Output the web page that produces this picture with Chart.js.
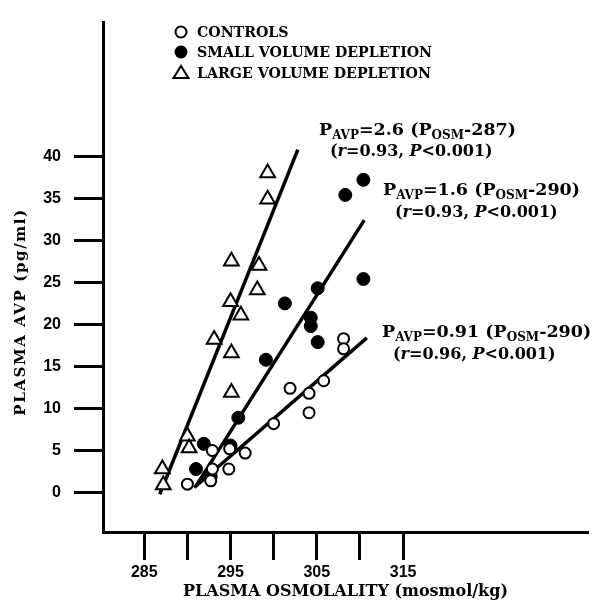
<!DOCTYPE html>
<html>
<head>
<meta charset="utf-8">
<script src="https://cdn.jsdelivr.net/npm/chart.js@4/dist/chart.umd.min.js"></script>
<style>
  html, body { margin: 0; padding: 0; background: #fff; }
  #wrap { width: 595px; height: 601px; }
</style>
</head>
<body>
<div id="wrap"><canvas id="avpChart" width="595" height="601"></canvas></div>
<script>
// values: plasma osmolality (mosmol/kg) vs plasma AVP (pg/ml)
const controlsOsm = [290.0, 292.7, 292.9, 294.8, 292.9, 294.9, 296.7, 300.0, 301.9, 304.1, 304.1, 305.8, 308.1, 308.1];
const controlsAvp = [1.0, 1.4, 2.8, 2.8, 5.0, 5.2, 4.7, 8.2, 12.4, 11.8, 9.5, 13.3, 18.3, 17.1];

const smallOsm = [310.4, 308.3, 310.4, 305.1, 301.3, 304.3, 304.3, 305.1, 299.1, 295.9, 295.0, 291.9, 291.0, 292.7];
const smallAvp = [37.2, 35.4, 25.4, 24.3, 22.5, 20.8, 19.8, 17.9, 15.8, 8.9, 5.6, 5.8, 2.8, 1.9];

const largeOsm = [299.3, 299.3, 295.1, 298.3, 298.1, 295.0, 296.2, 293.1, 295.1, 295.1, 290.0, 290.2, 287.1, 287.2];
const largeAvp = [38.0, 34.9, 27.5, 27.0, 24.1, 22.7, 21.1, 18.2, 16.6, 11.9, 6.7, 5.3, 2.8, 0.9];

// ends of the three regression lines
const largeLineOsm = [286.8, 302.8];
const largeLineAvp = [-0.2, 40.8];
const smallLineOsm = [291.0, 310.5];
const smallLineAvp = [0.8, 32.4];
const controlsLineOsm = [290.8, 310.8];
const controlsLineAvp = [0.6, 18.4];

const xTickValues = [285, 290, 295, 300, 305, 310, 315];
const xTickLabels = ['285', '', '295', '', '305', '', '315'];
const yTickValues = [0, 5, 10, 15, 20, 25, 30, 35, 40];
const yTickLabels = ['0', '5', '10', '15', '20', '25', '30', '35', '40'];

const legendLabels = ['CONTROLS', 'SMALL VOLUME DEPLETION', 'LARGE VOLUME DEPLETION'];

const toPoints = (xs, ys) => xs.map((x, i) => ({ x: x, y: ys[i] }));

const serif = "'DejaVu Serif', serif";
const sans = "'Liberation Sans', Arial, sans-serif";

function drawRuns(ctx, x, y, runs) {
  ctx.textAlign = 'left';
  ctx.textBaseline = 'alphabetic';
  runs.forEach(run => {
    ctx.font = run[1];
    ctx.fillText(run[0], x, y + (run[2] || 0));
    x += ctx.measureText(run[0]).width;
  });
}

function equationRuns(slope, offset) {
  const big = 'bold 17.5px ' + serif;
  const sub = 'bold 12px ' + serif;
  return [
    ['P', big], ['AVP', sub, 4], ['=' + slope + ' (P', big], ['OSM', sub, 4], ['-' + offset + ')', big]
  ];
}

function statRuns(r) {
  const f = 'bold 16px ' + serif;
  const it = 'italic bold 16px ' + serif;
  return [['(', f], ['r', it], ['=' + r + ', ', f], ['P', it], ['<0.001)', f]];
}

const figureText = {
  id: 'figureText',
  afterDraw(chart) {
    const ctx = chart.ctx;
    ctx.save();
    ctx.fillStyle = '#000';
    ctx.strokeStyle = '#000';

    // legend box
    ctx.lineWidth = 2;
    ctx.beginPath();
    ctx.arc(181, 32, 5.5, 0, Math.PI * 2);
    ctx.stroke();
    ctx.beginPath();
    ctx.arc(181, 52, 6.5, 0, Math.PI * 2);
    ctx.fill();
    ctx.beginPath();
    ctx.moveTo(181, 66);
    ctx.lineTo(188.5, 78);
    ctx.lineTo(173.5, 78);
    ctx.closePath();
    ctx.stroke();
    ctx.font = 'bold 14.2px ' + serif;
    ctx.textBaseline = 'alphabetic';
    ctx.fillText(legendLabels[0], 197, 37);
    ctx.fillText(legendLabels[1], 197, 57);
    ctx.fillText(legendLabels[2], 197, 78);

    // regression equations
    drawRuns(ctx, 319, 135, equationRuns('2.6', '287'));
    drawRuns(ctx, 330, 156, statRuns('0.93'));
    drawRuns(ctx, 383, 195, equationRuns('1.6', '290'));
    drawRuns(ctx, 395, 217, statRuns('0.93'));
    drawRuns(ctx, 382, 337, equationRuns('0.91', '290'));
    drawRuns(ctx, 393, 359, statRuns('0.96'));

    // y axis title
    ctx.translate(21, 312);
    ctx.rotate(-Math.PI / 2);
    ctx.font = 'bold 15px ' + serif;
    ctx.letterSpacing = '1.6px';
    ctx.textAlign = 'center';
    ctx.textBaseline = 'middle';
    ctx.fillText('PLASMA AVP (pg/ml)', 0, 0);
    ctx.restore();
  }
};

const ctx = document.getElementById('avpChart').getContext('2d');
const chart = new Chart(ctx, {
  type: 'scatter',
  data: {
    datasets: [
      {
        label: 'Controls',
        data: toPoints(controlsOsm, controlsAvp),
        pointStyle: 'circle',
        pointRadius: 5.5,
        pointBorderWidth: 2,
        borderColor: '#000',
        backgroundColor: '#fff'
      },
      {
        label: 'Small volume depletion',
        data: toPoints(smallOsm, smallAvp),
        pointStyle: 'circle',
        pointRadius: 6.5,
        pointBorderWidth: 1,
        borderColor: '#000',
        backgroundColor: '#000'
      },
      {
        label: 'Large volume depletion',
        data: toPoints(largeOsm, largeAvp),
        pointStyle: 'triangle',
        pointRadius: 8.5,
        pointBorderWidth: 2,
        borderColor: '#000',
        backgroundColor: '#fff'
      },
      {
        label: 'Large fit',
        data: toPoints(largeLineOsm, largeLineAvp),
        showLine: true,
        pointRadius: 0,
        borderWidth: 3.5,
        borderColor: '#000'
      },
      {
        label: 'Small fit',
        data: toPoints(smallLineOsm, smallLineAvp),
        showLine: true,
        pointRadius: 0,
        borderWidth: 3.5,
        borderColor: '#000'
      },
      {
        label: 'Controls fit',
        data: toPoints(controlsLineOsm, controlsLineAvp),
        showLine: true,
        pointRadius: 0,
        borderWidth: 3.5,
        borderColor: '#000'
      }
    ]
  },
  options: {
    responsive: false,
    animation: false,
    events: [],
    layout: { autoPadding: false, padding: { left: 0, top: 12, right: 7, bottom: 0 } },
    plugins: {
      legend: { display: false },
      tooltip: { enabled: false }
    },
    scales: {
      x: {
        type: 'linear',
        min: 280.22,
        max: 336.43,
        afterBuildTicks: scale => { scale.ticks = xTickValues.map(v => ({ value: v })); },
        afterFit: scale => { scale.height = 69; },
        ticks: {
          autoSkip: false,
          maxRotation: 0,
          padding: 3,
          color: '#000',
          font: { family: sans, size: 16, weight: 'bold' },
          callback: (value, index) => xTickLabels[index]
        },
        grid: { drawOnChartArea: false, drawTicks: true, tickLength: 28, tickWidth: 3, tickColor: '#000' },
        border: { display: true, width: 3, color: '#000' },
        title: {
          display: true,
          text: 'PLASMA OSMOLALITY (mosmol/kg)',
          color: '#000',
          font: { family: serif, size: 16, weight: 'bold' },
          padding: { top: 0, bottom: 0 }
        }
      },
      y: {
        type: 'linear',
        min: -4.69,
        max: 55.9,
        afterBuildTicks: scale => { scale.ticks = yTickValues.map(v => ({ value: v })); },
        afterFit: scale => { scale.width = 103; },
        ticks: {
          autoSkip: false,
          padding: 13,
          color: '#000',
          font: { family: sans, size: 16, weight: 'bold' },
          callback: (value, index) => yTickLabels[index]
        },
        grid: { drawOnChartArea: false, drawTicks: true, tickLength: 29, tickWidth: 3, tickColor: '#000' },
        border: { display: true, width: 3, color: '#000' }
      }
    }
  },
  plugins: [figureText]
});
</script>
</body>
</html>
